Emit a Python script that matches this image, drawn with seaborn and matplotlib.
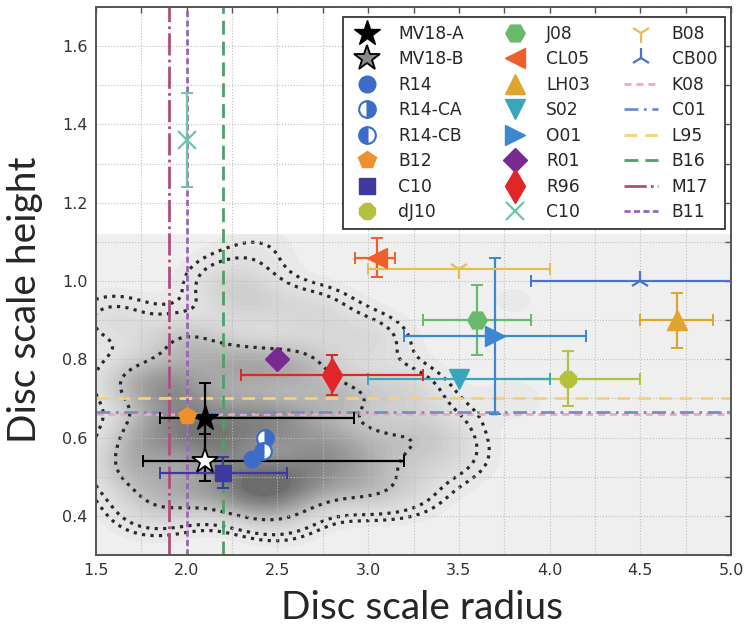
import numpy as np
import matplotlib
matplotlib.use("Agg")
import matplotlib.pyplot as plt
from matplotlib.colors import LinearSegmentedColormap
from matplotlib.lines import Line2D
from matplotlib.ticker import MultipleLocator, FormatStrFormatter
import seaborn as sns

# ---------------- data ----------------
# literature measurements (markers + error bars)
labels = ["MV18-A", "MV18-B", "R14", "R14-CA", "R14-CB", "B12", "C10", "dJ10",
          "J08", "CL05", "LH03", "S02", "O01", "R01", "R96", "C10",
          "B08", "CB00"]
radius = [2.10, 2.10, 2.36, 2.43, 2.42, 2.00, 2.20, 4.10,
          3.60, 3.05, 4.70, 3.50, 3.70, 2.50, 2.80, 2.00,
          3.50, 4.50]
height = [0.65, 0.54, 0.545, 0.60, 0.565, 0.655, 0.51, 0.75,
          0.90, 1.06, 0.90, 0.75, 0.86, 0.80, 0.76, 1.36,
          1.03, 1.00]
radius_err_lo = [0.25, 0.34, 0, 0, 0, 0, 0.35, 0.40,
                 0.30, 0.12, 0.20, 0.50, 0.50, 0, 0.50, 0,
                 0.50, 0.60]
radius_err_hi = [0.82, 1.10, 0, 0, 0, 0, 0.35, 0.40,
                 0.30, 0.10, 0.20, 0.50, 0.50, 0, 0.50, 0,
                 0.50, 0.60]
height_err_lo = [0.04, 0.05, 0, 0, 0, 0, 0.04, 0.07,
                 0.09, 0.05, 0.07, 0, 0.20, 0, 0.05, 0.12,
                 0, 0]
height_err_hi = [0.09, 0.07, 0, 0, 0, 0, 0.04, 0.07,
                 0.09, 0.05, 0.07, 0, 0.20, 0, 0.05, 0.12,
                 0, 0]

# reference lines (single-value estimates)
hline_labels = ["K08", "C01", "L95"]
hline_values = [0.66, 0.665, 0.70]
vline_labels = ["B16", "M17", "B11"]
vline_values = [2.2, 1.9, 2.0]

# anchor points describing the posterior density in the background
dens_x = [1.95, 2.05, 1.80, 2.20, 2.35, 2.45, 2.65, 2.30, 2.80, 2.55,
          2.30, 2.60, 2.85, 2.00, 1.72, 1.70, 2.00, 2.95,
          3.10, 3.20, 3.35, 2.35, 2.70, 3.00, 1.60, 2.20, 1.80, 2.50,
          3.20, 3.45,
          3.80, 4.20, 4.50, 3.80, 2.40]
dens_y = [0.72, 0.63, 0.60, 0.57, 0.65, 0.48, 0.50, 0.47, 0.57, 0.63,
          0.78, 0.78, 0.70, 0.84, 0.74, 0.52, 0.47, 0.48,
          0.58, 0.72, 0.62, 0.95, 0.92, 0.85, 0.90, 1.00, 0.42, 0.41,
          0.47, 0.55,
          0.70, 0.60, 0.85, 0.95, 1.08]
dens_w = [2.4, 2.4, 2.0, 2.2, 2.0, 2.4, 2.0, 2.0, 2.0, 2.0,
          2.0, 1.8, 1.6, 1.6, 1.5, 1.5, 1.6, 1.4,
          1.1, 1.0, 0.9, 1.0, 0.9, 0.9, 0.8, 0.7, 0.9, 0.9,
          0.8, 0.7,
          0.3, 0.15, 0.15, 0.25, 0.35]

# ---------------- styling ----------------
marker_style = {
    "MV18-A": dict(marker="*", color="black", ms=19, mfc="black", mec="black"),
    "MV18-B": dict(marker="*", color="black", ms=19, mfc="white", mec="black", mew=1.3),
    "R14": dict(marker="o", color="#3b6cc8", ms=12, mfc="#3b6cc8", mec="#3b6cc8"),
    "R14-CA": dict(marker="o", color="#3b6cc8", ms=12, mfc="#3b6cc8", mec="#3b6cc8",
                   fillstyle="right", markerfacecoloralt="white", mew=1.5),
    "R14-CB": dict(marker="o", color="#3b6cc8", ms=12, mfc="#3b6cc8", mec="#3b6cc8",
                   fillstyle="left", markerfacecoloralt="white", mew=1.5),
    "B12": dict(marker="p", color="#ef8f2d", ms=13, mfc="#ef8f2d", mec="#ef8f2d"),
    "C10": dict(marker="s", color="#3e3a9e", ms=12, mfc="#3e3a9e", mec="#3e3a9e"),
    "dJ10": dict(marker="8", color="#b3c13b", ms=13, mfc="#b3c13b", mec="#b3c13b"),
    "J08": dict(marker="H", color="#6ab96a", ms=14, mfc="#6ab96a", mec="#6ab96a"),
    "CL05": dict(marker="<", color="#ef5f29", ms=15, mfc="#ef5f29", mec="#ef5f29"),
    "LH03": dict(marker="^", color="#dea62f", ms=15, mfc="#dea62f", mec="#dea62f"),
    "S02": dict(marker="v", color="#3aa6bb", ms=15, mfc="#3aa6bb", mec="#3aa6bb"),
    "O01": dict(marker=">", color="#3d86d0", ms=15, mfc="#3d86d0", mec="#3d86d0"),
    "R01": dict(marker="D", color="#782a93", ms=12, mfc="#782a93", mec="#782a93"),
    "R96": dict(marker="d", color="#e02626", ms=17, mfc="#e02626", mec="#e02626"),
    "C10x": dict(marker="x", color="#6cc6a6", ms=13, mew=1.6),
    "B08": dict(marker="1", color="#e6bd4e", ms=14, mew=1.6),
    "CB00": dict(marker="2", color="#4a72c6", ms=14, mew=1.6),
}
line_style = {
    "K08": dict(color="#f3a7bf", lw=2, dashes=(2.5, 1.8)),
    "C01": dict(color="#6f8fcb", lw=2, dashes=(5, 2, 1, 2)),
    "L95": dict(color="#f9cf77", lw=2, dashes=(4.5, 3)),
    "B16": dict(color="#4f9f6a", lw=2, dashes=(5, 2.5)),
    "M17": dict(color="#ae4e7e", lw=2, dashes=(8, 1.5, 1, 1.5)),
    "B11": dict(color="#9965b6", lw=2, dashes=(2.2, 1.2)),
}

sns.set_style("white")
plt.rcParams["font.family"] = ["DejaVu Sans"]

fig = plt.figure(figsize=(7.45, 6.41), dpi=100)
ax = fig.add_axes([96 / 745, 1 - 555 / 641, 635 / 745, 548 / 641])

# ---------------- background density ----------------
grey_cmap = LinearSegmentedColormap.from_list(
    "greys_soft", ["#f1f1f1", "#d2d2d2", "#a9a9a9", "#868686", "#656565"])
kde_common = dict(x=dens_x, y=dens_y, weights=dens_w, bw_method=0.33,
                  clip=((1.5, 5.0), (0.3, 1.12)), cut=30, gridsize=200, ax=ax)
sns.kdeplot(fill=True, levels=40, thresh=0, cmap=grey_cmap, zorder=0, **kde_common)
sns.kdeplot(levels=[0.045, 0.075, 0.32], color="#2a2a2a", linestyles=":",
            linewidths=2.3, zorder=1.2, **kde_common)

# ---------------- measurements ----------------
handles = []
for i, lab in enumerate(labels):
    key = "C10x" if (lab == "C10" and i > 8) else lab
    st = dict(marker_style[key])
    col = st.pop("color")
    xe = [[radius_err_lo[i]], [radius_err_hi[i]]]
    ye = [[height_err_lo[i]], [height_err_hi[i]]]
    has_x = radius_err_lo[i] + radius_err_hi[i] > 0
    has_y = height_err_lo[i] + height_err_hi[i] > 0
    if has_x or has_y:
        ax.errorbar([radius[i]], [height[i]],
                    xerr=xe if has_x else None, yerr=ye if has_y else None,
                    fmt="none", ecolor=col, elinewidth=1.6, capsize=4,
                    capthick=1.4, zorder=3)
    h, = ax.plot([radius[i]], [height[i]], ls="none", label=lab, zorder=4,
                 color=col, **st)
    handles.append(h)

# legend proxy for MV18-B (grey filled star in the legend)
handles[1] = Line2D([], [], ls="none", marker="*", ms=19, mfc="#8a8a8a",
                    mec="black", mew=1.3, label="MV18-B")

for lab, val in zip(hline_labels, hline_values):
    h = ax.axhline(val, label=lab, zorder=2.5, **line_style[lab])
    handles.append(h)
for lab, val in zip(vline_labels, vline_values):
    h = ax.axvline(val, label=lab, zorder=2.5, **line_style[lab])
    handles.append(h)

# ---------------- axes ----------------
ax.set_xlim(1.5, 5.0)
ax.set_ylim(0.3, 1.7)
ax.xaxis.set_major_locator(MultipleLocator(0.5))
ax.xaxis.set_minor_locator(MultipleLocator(0.25))
ax.yaxis.set_major_locator(MultipleLocator(0.2))
ax.yaxis.set_minor_locator(MultipleLocator(0.1))
ax.xaxis.set_major_formatter(FormatStrFormatter("%.1f"))
ax.yaxis.set_major_formatter(FormatStrFormatter("%.1f"))
ax.set_axisbelow("line")
ax.grid(True, which="both", ls=":", color="#bdbdbd", lw=0.8)
ax.tick_params(which="both", direction="in", top=True, right=True,
               length=4, width=1, color="#555555")
ax.tick_params(which="major", labelsize=11.5, labelcolor="#333333", pad=6)
for sp in ax.spines.values():
    sp.set_color("#555555")
    sp.set_linewidth(1.4)

ax.set_xlabel("Disc scale radius", fontfamily=["Lato", "DejaVu Sans"], fontsize=28)
ax.xaxis.label.set_va("center")
ax.xaxis.set_label_coords((422 - 96) / 635, -(608 - 555) / 548)
ax.set_ylabel("Disc scale height", fontfamily=["Lato", "DejaVu Sans"], fontsize=28)
ax.yaxis.label.set_va("center")
ax.yaxis.set_label_coords((25 - 96) / 635, (555 - 300) / 548)

leg = ax.legend(handles=handles, labels=[h.get_label() for h in handles],
                ncol=3, loc="upper right", bbox_to_anchor=(1 - 6 / 635, 1 - 10 / 548),
                borderaxespad=0, fontsize=12.3, numpoints=1, handlelength=2.0,
                handletextpad=0.8, columnspacing=2.0, labelspacing=0.44,
                borderpad=0.45, fancybox=False, framealpha=1, edgecolor="#444444")
leg.get_frame().set_linewidth(1.4)
leg.set_zorder(10)

fig.savefig("out.png", dpi=100)
